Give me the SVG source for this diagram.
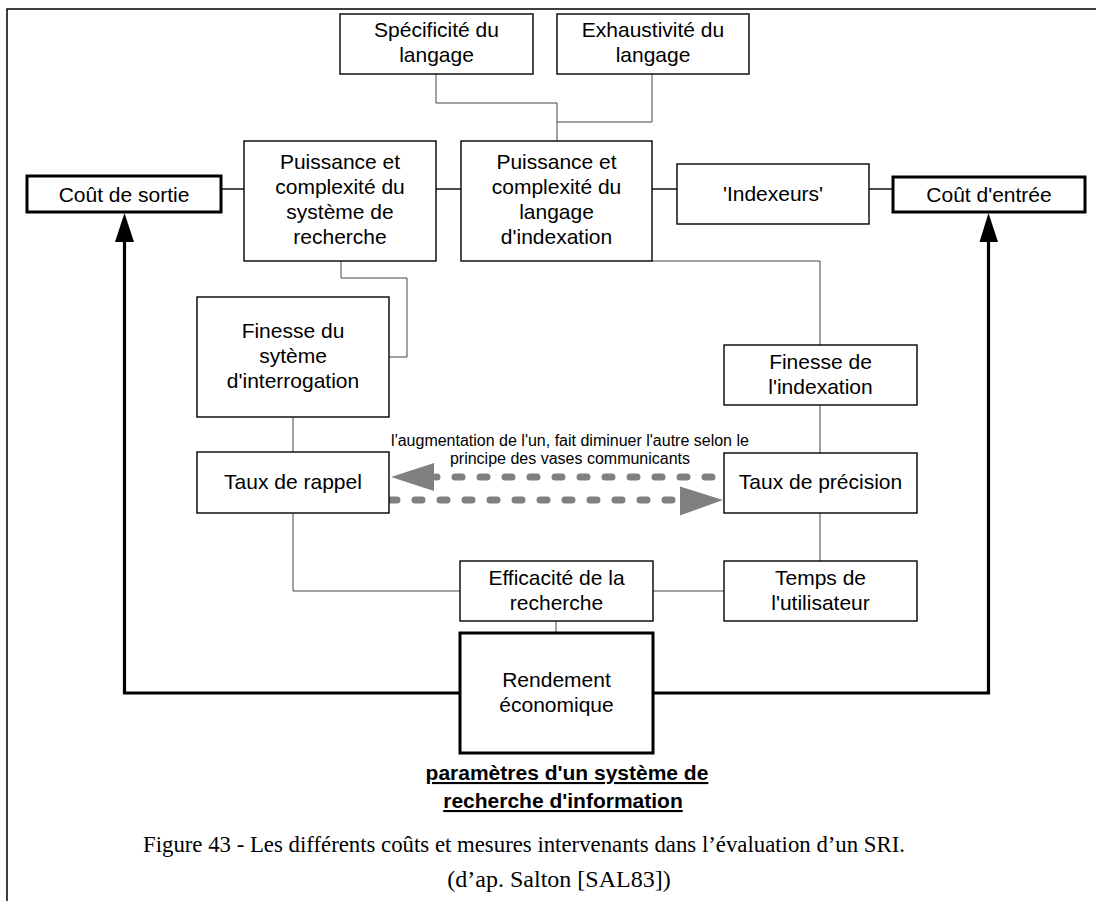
<svg xmlns="http://www.w3.org/2000/svg" width="1096" height="901" viewBox="0 0 1096 901">
<style>
.box{fill:#fff;stroke:#000;stroke-width:1.4}
.thick{fill:#fff;stroke:#000;stroke-width:3}
.t{font-family:"Liberation Sans",Arial,sans-serif;font-size:21px;fill:#000;text-anchor:middle}
.small{font-family:"Liberation Sans",Arial,sans-serif;font-size:16px;fill:#000;text-anchor:middle}
.title{font-family:"Liberation Sans",Arial,sans-serif;font-size:21px;font-weight:bold;fill:#000;text-anchor:middle;text-decoration:underline}
.cap{font-family:"Liberation Serif","Times New Roman",serif;font-size:24px;fill:#000}
.c{fill:none;stroke:#444;stroke-width:1}
.cb{fill:none;stroke:#000;stroke-width:1.4}
.ct{fill:none;stroke:#000;stroke-width:3.2}
.dash{fill:none;stroke:#808080;stroke-width:7;stroke-linecap:round;stroke-dasharray:7 18}
</style>
<rect x="0" y="0" width="1096" height="901" fill="#fff"/>
<path d="M7,901 V9 H1096" fill="none" stroke="#000" stroke-width="1.5"/>

<g id="connectors">
<path class="c" d="M436,74 V103 H557 V141"/>
<path class="c" d="M652,74 V122 H557"/>
<path class="cb" d="M221,189 H244"/>
<path class="cb" d="M436,189 H461"/>
<path class="cb" d="M652,189 H677"/>
<path class="cb" d="M869,189 H893"/>
<path class="c" d="M341,261 V278 H407 V357 H389"/>
<path class="c" d="M652,261 H820 V345"/>
<path class="c" d="M293,417 V452"/>
<path class="c" d="M820,405 V453"/>
<path class="c" d="M293,513 V591 H460"/>
<path class="c" d="M820,513 V561"/>
<path class="c" d="M653,591 H724"/>
<path class="c" d="M556,621 V633"/>
<path class="ct" d="M460,693 H124.5 V240"/>
<polygon points="124.5,213 115,242 134,242" fill="#000"/>
<path class="ct" d="M653,693 H988.5 V240"/>
<polygon points="988.5,213 979.5,242 998,242" fill="#000"/>
<path class="dash" d="M712,477 L436,477"/>
<polygon points="391,477 434,463 434,491" fill="#808080"/>
<path class="dash" d="M390,500 L678,500"/>
<polygon points="723,500 680,486.5 680,515.5" fill="#808080"/>
<text class="small" x="570" y="446">l'augmentation de l'un, fait diminuer l'autre selon le</text>
<text class="small" x="570" y="464">principe des vases communicants</text>
</g>

<g id="specificite"><rect class="box" x="340" y="14" width="193" height="60"/>
<text class="t" x="436.5" y="37">Spécificité du</text><text class="t" x="436.5" y="62">langage</text></g>

<g id="exhaustivite"><rect class="box" x="557" y="14" width="192" height="60"/>
<text class="t" x="653" y="37">Exhaustivité du</text><text class="t" x="653" y="62">langage</text></g>

<g id="puissance-systeme"><rect class="box" x="244" y="141" width="192" height="120"/>
<text class="t" x="340" y="168.5">Puissance et</text><text class="t" x="340" y="193.5">complexité du</text><text class="t" x="340" y="218.5">système de</text><text class="t" x="340" y="243.5">recherche</text></g>

<g id="puissance-langage"><rect class="box" x="461" y="141" width="191" height="120"/>
<text class="t" x="556.5" y="168.5">Puissance et</text><text class="t" x="556.5" y="193.5">complexité du</text><text class="t" x="556.5" y="218.5">langage</text><text class="t" x="556.5" y="243.5">d'indexation</text></g>

<g id="cout-sortie"><rect class="thick" x="27" y="176" width="194" height="36"/>
<text class="t" x="124" y="201.5">Coût de sortie</text></g>

<g id="indexeurs"><rect class="box" x="677" y="164" width="192" height="60"/>
<text class="t" x="773" y="200.5">'Indexeurs'</text></g>

<g id="cout-entree"><rect class="thick" x="893" y="177" width="192" height="35"/>
<text class="t" x="989" y="201.5">Coût d'entrée</text></g>

<g id="finesse-systeme"><rect class="box" x="197" y="297" width="192" height="120"/>
<text class="t" x="293" y="337.5">Finesse du</text><text class="t" x="293" y="362.5">sytème</text><text class="t" x="293" y="387.5">d'interrogation</text></g>

<g id="finesse-indexation"><rect class="box" x="724" y="345" width="193" height="60"/>
<text class="t" x="820.5" y="368.5">Finesse de</text><text class="t" x="820.5" y="393.5">l'indexation</text></g>

<g id="taux-rappel"><rect class="box" x="197" y="452" width="192" height="61"/>
<text class="t" x="293" y="488.5">Taux de rappel</text></g>

<g id="taux-precision"><rect class="box" x="724" y="453" width="193" height="60"/>
<text class="t" x="820.5" y="488.5">Taux de précision</text></g>

<g id="efficacite"><rect class="box" x="460" y="561" width="193" height="60"/>
<text class="t" x="556.5" y="584.5">Efficacité de la</text><text class="t" x="556.5" y="609.5">recherche</text></g>

<g id="temps"><rect class="box" x="724" y="561" width="193" height="60"/>
<text class="t" x="820.5" y="584.5">Temps de</text><text class="t" x="820.5" y="609.5">l'utilisateur</text></g>

<g id="rendement"><rect class="thick" x="460" y="633" width="193" height="120"/>
<text class="t" x="556.5" y="687">Rendement</text><text class="t" x="556.5" y="712">économique</text></g>

<g id="titre">
<text class="title" x="567" y="780">paramètres d'un système de</text>
<text class="title" x="563" y="808">recherche d'information</text>
</g>
<g id="legende">
<text class="cap" x="143" y="852" font-size="25" textLength="762" lengthAdjust="spacingAndGlyphs">Figure 43 - Les différents coûts et mesures intervenants dans l’évaluation d’un SRI.</text>
<text class="cap" x="559" y="887" text-anchor="middle">(d’ap. Salton [SAL83])</text>
</g>
</svg>
